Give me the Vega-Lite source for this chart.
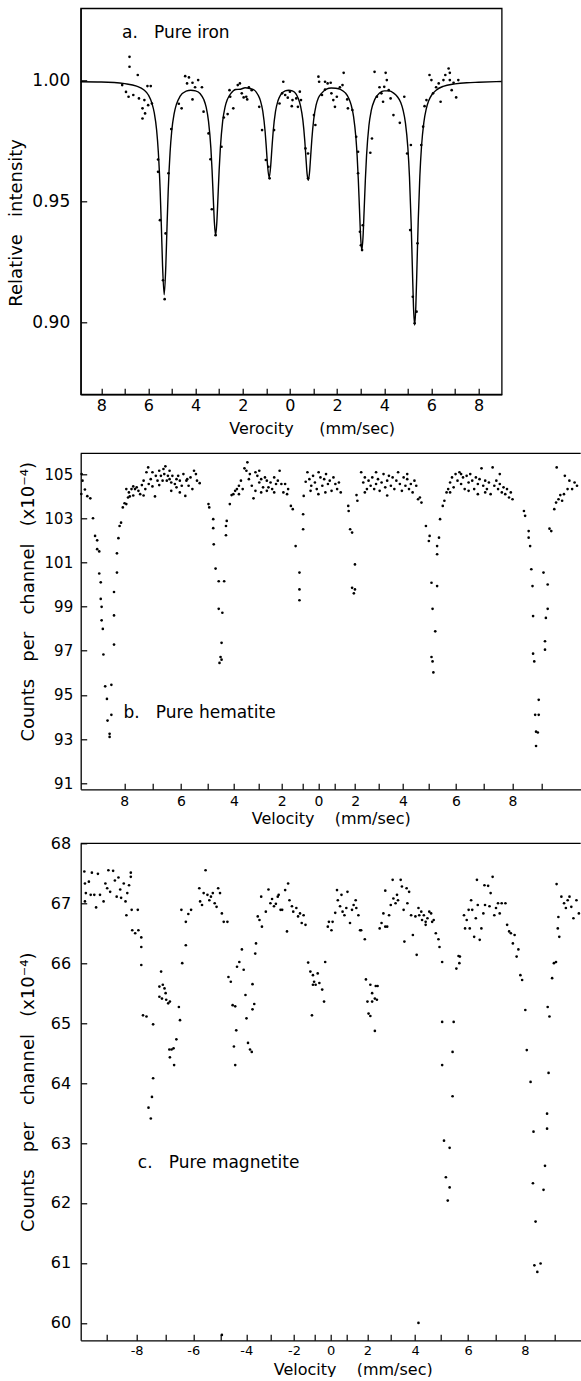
{
  "$schema": "https://vega.github.io/schema/vega-lite/v6.json",
  "background": "white",
  "autosize": {"type": "pad"},
  "padding": {"left": 6.7, "top": 7.3, "right": 0, "bottom": 0},
  "spacing": 9,
  "config": {
    "font": "DejaVu Sans",
    "view": {"stroke": null},
    "text": {"font": "DejaVu Sans", "color": "black"},
    "axis": {
      "grid": false,
      "domainColor": "black",
      "domainWidth": 1.3,
      "tickColor": "black",
      "tickWidth": 1.2,
      "tickCount": 60,
      "labelColor": "black",
      "titleColor": "black",
      "labelFont": "DejaVu Sans",
      "titleFont": "DejaVu Sans",
      "titleFontWeight": "normal",
      "labelOverlap": false,
      "labelFlush": false
    }
  },
  "datasets": {
    "ironCurve": [
      {"v": -8.87, "y": 0.9996}, {"v": -8.0, "y": 0.9995}, {"v": -7.0, "y": 0.9988}, {"v": -6.5, "y": 0.9978},
      {"v": -6.2, "y": 0.9963}, {"v": -6.0, "y": 0.9941}, {"v": -5.85, "y": 0.9907}, {"v": -5.75, "y": 0.9867},
      {"v": -5.65, "y": 0.9795}, {"v": -5.58, "y": 0.9707}, {"v": -5.5, "y": 0.9544}, {"v": -5.45, "y": 0.9398},
      {"v": -5.4, "y": 0.9237}, {"v": -5.33, "y": 0.9114}, {"v": -5.26, "y": 0.9236}, {"v": -5.21, "y": 0.9397},
      {"v": -5.16, "y": 0.9543}, {"v": -5.08, "y": 0.9704}, {"v": -5.01, "y": 0.9792}, {"v": -4.91, "y": 0.9863},
      {"v": -4.81, "y": 0.9903}, {"v": -4.66, "y": 0.9935}, {"v": -4.4, "y": 0.9957}, {"v": -4.2, "y": 0.9961},
      {"v": -4.0, "y": 0.9958}, {"v": -3.8, "y": 0.9946}, {"v": -3.65, "y": 0.9922}, {"v": -3.55, "y": 0.9891},
      {"v": -3.45, "y": 0.9832}, {"v": -3.35, "y": 0.972}, {"v": -3.3, "y": 0.963}, {"v": -3.25, "y": 0.9518},
      {"v": -3.2, "y": 0.9411}, {"v": -3.15, "y": 0.936}, {"v": -3.1, "y": 0.941}, {"v": -3.05, "y": 0.9517},
      {"v": -3.0, "y": 0.9629}, {"v": -2.95, "y": 0.9719}, {"v": -2.85, "y": 0.9833}, {"v": -2.75, "y": 0.9891},
      {"v": -2.65, "y": 0.9923}, {"v": -2.5, "y": 0.9948}, {"v": -2.3, "y": 0.9964}, {"v": -2.1, "y": 0.9965},
      {"v": -1.9, "y": 0.9971}, {"v": -1.7, "y": 0.9968}, {"v": -1.5, "y": 0.9961}, {"v": -1.35, "y": 0.9941},
      {"v": -1.25, "y": 0.9918}, {"v": -1.15, "y": 0.9874}, {"v": -1.05, "y": 0.9789}, {"v": -1.0, "y": 0.9724},
      {"v": -0.95, "y": 0.9653}, {"v": -0.88, "y": 0.9598}, {"v": -0.81, "y": 0.9653}, {"v": -0.76, "y": 0.9724},
      {"v": -0.71, "y": 0.9789}, {"v": -0.61, "y": 0.9873}, {"v": -0.51, "y": 0.9916}, {"v": -0.4, "y": 0.9941},
      {"v": -0.2, "y": 0.9958}, {"v": -0.05, "y": 0.9961}, {"v": 0.1, "y": 0.9958}, {"v": 0.25, "y": 0.9947},
      {"v": 0.35, "y": 0.9928}, {"v": 0.45, "y": 0.9896}, {"v": 0.55, "y": 0.9837}, {"v": 0.63, "y": 0.9753},
      {"v": 0.68, "y": 0.9682}, {"v": 0.73, "y": 0.9614}, {"v": 0.78, "y": 0.9588}, {"v": 0.83, "y": 0.9618},
      {"v": 0.88, "y": 0.9686}, {"v": 0.93, "y": 0.9757}, {"v": 1.01, "y": 0.984}, {"v": 1.11, "y": 0.9899},
      {"v": 1.21, "y": 0.993}, {"v": 1.35, "y": 0.9949}, {"v": 1.55, "y": 0.9965}, {"v": 1.75, "y": 0.997},
      {"v": 1.95, "y": 0.9969}, {"v": 2.15, "y": 0.9964}, {"v": 2.35, "y": 0.995}, {"v": 2.5, "y": 0.9927},
      {"v": 2.6, "y": 0.9899}, {"v": 2.7, "y": 0.9852}, {"v": 2.8, "y": 0.9763}, {"v": 2.85, "y": 0.9691},
      {"v": 2.9, "y": 0.9592}, {"v": 2.95, "y": 0.947}, {"v": 3.0, "y": 0.9352}, {"v": 3.05, "y": 0.9298},
      {"v": 3.1, "y": 0.9352}, {"v": 3.15, "y": 0.9469}, {"v": 3.2, "y": 0.9591}, {"v": 3.25, "y": 0.969},
      {"v": 3.35, "y": 0.9814}, {"v": 3.45, "y": 0.9877}, {"v": 3.6, "y": 0.9923}, {"v": 3.8, "y": 0.9949},
      {"v": 4.0, "y": 0.9958}, {"v": 4.2, "y": 0.9958}, {"v": 4.4, "y": 0.9949}, {"v": 4.55, "y": 0.9935},
      {"v": 4.7, "y": 0.991}, {"v": 4.8, "y": 0.9878}, {"v": 4.9, "y": 0.9825}, {"v": 5.0, "y": 0.9725},
      {"v": 5.07, "y": 0.9603}, {"v": 5.14, "y": 0.9414}, {"v": 5.19, "y": 0.9236}, {"v": 5.24, "y": 0.9065},
      {"v": 5.29, "y": 0.8989}, {"v": 5.34, "y": 0.9067}, {"v": 5.39, "y": 0.9238}, {"v": 5.44, "y": 0.9417},
      {"v": 5.51, "y": 0.9606}, {"v": 5.58, "y": 0.9728}, {"v": 5.68, "y": 0.9828}, {"v": 5.78, "y": 0.9883},
      {"v": 5.88, "y": 0.9916}, {"v": 6.03, "y": 0.9944}, {"v": 6.2, "y": 0.9961}, {"v": 6.5, "y": 0.9977},
      {"v": 7.0, "y": 0.9987}, {"v": 7.5, "y": 0.9992}, {"v": 8.0, "y": 0.9994}, {"v": 8.98, "y": 0.9997}
    ],
    "ironPts": [
      {"v": -6.8, "y": 1.0099}, {"v": -6.8, "y": 1.0058}, {"v": -6.45, "y": 1.0024}, {"v": -7.11, "y": 0.9982},
      {"v": -6.95, "y": 0.9954}, {"v": -6.84, "y": 0.9934}, {"v": -6.64, "y": 0.9941}, {"v": -6.4, "y": 0.9927},
      {"v": -6.17, "y": 0.992}, {"v": -6.04, "y": 0.9978}, {"v": -5.9, "y": 0.9978}, {"v": -6.25, "y": 0.9886},
      {"v": -6.14, "y": 0.9865}, {"v": -6.25, "y": 0.9844}, {"v": -6.01, "y": 0.9899}, {"v": -5.85, "y": 0.9906},
      {"v": -5.59, "y": 0.9674}, {"v": -5.59, "y": 0.9623}, {"v": -5.51, "y": 0.9423}, {"v": -5.38, "y": 0.9174},
      {"v": -5.31, "y": 0.9096}, {"v": -5.27, "y": 0.9368}, {"v": -5.15, "y": 0.9617}, {"v": -5.03, "y": 0.98},
      {"v": -4.71, "y": 0.9905}, {"v": -4.59, "y": 0.9886}, {"v": -4.44, "y": 1.0019}, {"v": -4.28, "y": 1.0014},
      {"v": -4.13, "y": 0.9992}, {"v": -4.36, "y": 0.9989}, {"v": -4.02, "y": 0.9973}, {"v": -3.89, "y": 1.0003},
      {"v": -3.73, "y": 0.9973}, {"v": -4.13, "y": 0.9923}, {"v": -3.66, "y": 0.9872}, {"v": -3.45, "y": 0.9782},
      {"v": -3.37, "y": 0.9675}, {"v": -3.31, "y": 0.9468}, {"v": -3.15, "y": 0.9361}, {"v": -2.9, "y": 0.9727},
      {"v": -2.8, "y": 0.9848}, {"v": -2.64, "y": 0.9862}, {"v": -2.53, "y": 0.9934}, {"v": -2.4, "y": 0.9886},
      {"v": -2.56, "y": 0.9961}, {"v": -2.21, "y": 0.9982}, {"v": -2.12, "y": 0.9989}, {"v": -2.04, "y": 0.9948},
      {"v": -1.96, "y": 0.9931}, {"v": -1.85, "y": 0.9934}, {"v": -1.74, "y": 0.9973}, {"v": -1.62, "y": 0.9961},
      {"v": -1.81, "y": 0.9923}, {"v": -1.3, "y": 0.9892}, {"v": -1.18, "y": 0.9796}, {"v": -1.02, "y": 0.9672},
      {"v": -0.91, "y": 0.9644}, {"v": -0.86, "y": 0.9596}, {"v": -0.67, "y": 0.9796}, {"v": -0.44, "y": 0.9906},
      {"v": -0.28, "y": 0.9996}, {"v": -0.33, "y": 0.9948}, {"v": -0.2, "y": 0.9941}, {"v": -0.09, "y": 0.993},
      {"v": 0.0, "y": 0.9955}, {"v": 0.11, "y": 0.992}, {"v": 0.08, "y": 0.9895}, {"v": 0.27, "y": 0.9927},
      {"v": 0.42, "y": 0.9955}, {"v": 0.47, "y": 0.992}, {"v": 0.34, "y": 0.9892}, {"v": 0.66, "y": 0.972},
      {"v": 0.77, "y": 0.9699}, {"v": 0.77, "y": 0.9596}, {"v": 1.02, "y": 0.9858}, {"v": 1.08, "y": 0.9817},
      {"v": 1.21, "y": 1.0017}, {"v": 1.24, "y": 0.9996}, {"v": 1.36, "y": 0.9941}, {"v": 1.49, "y": 0.9964},
      {"v": 1.49, "y": 0.9996}, {"v": 1.6, "y": 0.9989}, {"v": 1.73, "y": 0.9992}, {"v": 1.76, "y": 0.9948},
      {"v": 1.84, "y": 0.992}, {"v": 1.91, "y": 0.9892}, {"v": 1.99, "y": 0.9934}, {"v": 2.12, "y": 0.9973},
      {"v": 2.28, "y": 1.0033}, {"v": 2.23, "y": 0.9982}, {"v": 2.43, "y": 0.9923}, {"v": 2.46, "y": 0.9886},
      {"v": 2.65, "y": 0.9879}, {"v": 2.81, "y": 0.9768}, {"v": 2.89, "y": 0.9706}, {"v": 2.89, "y": 0.9617},
      {"v": 2.97, "y": 0.9375}, {"v": 3.01, "y": 0.9319}, {"v": 3.06, "y": 0.9299}, {"v": 3.09, "y": 0.9402},
      {"v": 3.41, "y": 0.9702}, {"v": 3.48, "y": 0.9761}, {"v": 3.59, "y": 1.0037}, {"v": 3.69, "y": 0.9934},
      {"v": 3.8, "y": 0.9973}, {"v": 3.88, "y": 0.9948}, {"v": 4.0, "y": 0.9975}, {"v": 4.06, "y": 1.0033},
      {"v": 4.11, "y": 1.0003}, {"v": 4.19, "y": 0.9961}, {"v": 4.27, "y": 0.9927}, {"v": 3.95, "y": 0.9913},
      {"v": 4.39, "y": 0.9858}, {"v": 4.66, "y": 0.9826}, {"v": 4.85, "y": 0.9934}, {"v": 4.97, "y": 0.9699},
      {"v": 5.13, "y": 0.9734}, {"v": 5.1, "y": 0.9382}, {"v": 5.21, "y": 0.9106}, {"v": 5.29, "y": 0.8996},
      {"v": 5.37, "y": 0.9044}, {"v": 5.41, "y": 0.9327}, {"v": 5.57, "y": 0.9734}, {"v": 5.65, "y": 0.981},
      {"v": 5.71, "y": 0.9895}, {"v": 5.79, "y": 0.992}, {"v": 5.92, "y": 1.0024}, {"v": 6.0, "y": 1.0003},
      {"v": 6.07, "y": 0.9948}, {"v": 6.2, "y": 0.9973}, {"v": 6.31, "y": 0.9989}, {"v": 6.39, "y": 0.9913},
      {"v": 6.51, "y": 1.0003}, {"v": 6.59, "y": 1.0024}, {"v": 6.73, "y": 1.0051}, {"v": 6.78, "y": 1.0033},
      {"v": 6.78, "y": 1.0003}, {"v": 6.86, "y": 0.9961}, {"v": 6.94, "y": 0.9992}, {"v": 7.05, "y": 0.9931},
      {"v": 7.14, "y": 1.0003}
    ],
    "hemPts": [
      {"v": -9.44, "c": 105.0}, {"v": -9.41, "c": 104.7}, {"v": -9.45, "c": 104.1}, {"v": -9.33, "c": 104.3},
      {"v": -9.25, "c": 104.0}, {"v": -9.15, "c": 103.9}, {"v": -9.06, "c": 103.0}, {"v": -8.99, "c": 102.2},
      {"v": -8.92, "c": 102.0}, {"v": -8.92, "c": 101.6}, {"v": -8.85, "c": 101.5}, {"v": -8.85, "c": 100.5},
      {"v": -8.8, "c": 100.1}, {"v": -8.8, "c": 99.35}, {"v": -8.77, "c": 98.99}, {"v": -8.77, "c": 98.38},
      {"v": -8.73, "c": 97.99}, {"v": -8.71, "c": 96.83}, {"v": -8.65, "c": 95.39}, {"v": -8.59, "c": 94.82},
      {"v": -8.57, "c": 93.84}, {"v": -8.5, "c": 93.24}, {"v": -8.5, "c": 93.1}, {"v": -8.44, "c": 94.1},
      {"v": -8.44, "c": 95.46}, {"v": -8.35, "c": 97.28}, {"v": -8.35, "c": 98.6}, {"v": -8.35, "c": 99.66},
      {"v": -8.25, "c": 100.54}, {"v": -8.25, "c": 101.41}, {"v": -8.2, "c": 102.1}, {"v": -8.16, "c": 102.65},
      {"v": -8.11, "c": 102.8}, {"v": -8.05, "c": 103.49}, {"v": -7.99, "c": 103.68}, {"v": -7.93, "c": 103.64},
      {"v": -7.87, "c": 103.94}, {"v": -7.81, "c": 103.99}, {"v": -7.84, "c": 104.17},
      {"v": -7.75, "c": 104.32}, {"v": -7.69, "c": 104.44}, {"v": -7.63, "c": 104.32}, {"v": -7.57, "c": 104.4},
      {"v": -7.51, "c": 104.24}, {"v": -7.45, "c": 104.09}, {"v": -7.39, "c": 104.5}, {"v": -7.33, "c": 104.7},
      {"v": -7.27, "c": 104.32}, {"v": -7.23, "c": 105.08}, {"v": -7.17, "c": 105.3}, {"v": -7.15, "c": 104.55},
      {"v": -7.08, "c": 104.77}, {"v": -7.02, "c": 104.44}, {"v": -6.93, "c": 103.99}, {"v": -6.9, "c": 104.92},
      {"v": -6.84, "c": 104.7}, {"v": -6.78, "c": 105.15}, {"v": -6.72, "c": 104.92}, {"v": -6.66, "c": 104.7},
      {"v": -6.6, "c": 105.0}, {"v": -6.56, "c": 105.35}, {"v": -6.51, "c": 104.7}, {"v": -6.47, "c": 104.92},
      {"v": -6.41, "c": 104.77}, {"v": -6.35, "c": 104.62}, {"v": -6.31, "c": 104.92}, {"v": -6.22, "c": 104.55},
      {"v": -6.16, "c": 104.77}, {"v": -6.1, "c": 104.92}, {"v": -6.04, "c": 104.7}, {"v": -5.97, "c": 104.47},
      {"v": -5.91, "c": 105.0}, {"v": -5.84, "c": 104.01}, {"v": -5.8, "c": 104.7}, {"v": -5.72, "c": 104.47},
      {"v": -5.65, "c": 104.85}, {"v": -5.58, "c": 104.32}, {"v": -5.52, "c": 105.15}, {"v": -5.45, "c": 105.0},
      {"v": -5.41, "c": 104.7}, {"v": -5.31, "c": 104.59}, {"v": -7.93, "c": 104.32}, {"v": -7.69, "c": 104.03},
      {"v": -7.33, "c": 104.03}, {"v": -7.02, "c": 105.08}, {"v": -6.78, "c": 104.5}, {"v": -6.63, "c": 105.23},
      {"v": -6.41, "c": 105.15}, {"v": -6.04, "c": 104.17}, {"v": -5.77, "c": 104.77}, {"v": -6.16, "c": 104.4},
      {"v": -6.35, "c": 104.24},
      {"v": -4.98, "c": 103.64}, {"v": -4.95, "c": 103.49}, {"v": -4.8, "c": 102.96}, {"v": -4.8, "c": 102.55},
      {"v": -4.78, "c": 101.82}, {"v": -4.71, "c": 100.72}, {"v": -4.38, "c": 100.15}, {"v": -4.31, "c": 102.23},
      {"v": -4.31, "c": 102.65}, {"v": -4.28, "c": 102.88}, {"v": -4.16, "c": 103.64}, {"v": -4.09, "c": 104.05},
      {"v": -4.59, "c": 100.15}, {"v": -4.59, "c": 98.9}, {"v": -4.45, "c": 98.72}, {"v": -4.48, "c": 97.36},
      {"v": -4.52, "c": 96.72}, {"v": -4.48, "c": 96.6}, {"v": -4.56, "c": 96.45},
      {"v": -4.02, "c": 104.09}, {"v": -3.95, "c": 104.24}, {"v": -3.88, "c": 104.32}, {"v": -3.8, "c": 104.47},
      {"v": -3.72, "c": 104.7}, {"v": -3.65, "c": 104.32}, {"v": -3.58, "c": 105.26}, {"v": -3.5, "c": 105.15},
      {"v": -3.46, "c": 105.53}, {"v": -3.4, "c": 104.77}, {"v": -3.36, "c": 105.0}, {"v": -3.28, "c": 104.47},
      {"v": -3.21, "c": 103.9}, {"v": -3.13, "c": 105.08}, {"v": -3.05, "c": 104.92}, {"v": -2.97, "c": 104.62},
      {"v": -2.89, "c": 104.77}, {"v": -2.81, "c": 104.4}, {"v": -2.73, "c": 104.85}, {"v": -2.65, "c": 104.7},
      {"v": -2.58, "c": 104.4}, {"v": -2.49, "c": 104.62}, {"v": -2.42, "c": 104.32}, {"v": -2.33, "c": 104.85},
      {"v": -2.25, "c": 104.55}, {"v": -2.17, "c": 104.7}, {"v": -2.09, "c": 105.15}, {"v": -2.01, "c": 104.55},
      {"v": -1.92, "c": 104.17}, {"v": -1.84, "c": 104.55}, {"v": -1.75, "c": 104.09}, {"v": -1.7, "c": 104.32},
      {"v": -3.8, "c": 104.09}, {"v": -3.13, "c": 104.24}, {"v": -2.65, "c": 104.24}, {"v": -2.89, "c": 104.17},
      {"v": -2.33, "c": 104.17}, {"v": -2.97, "c": 105.15},
      {"v": -1.57, "c": 103.56}, {"v": -1.48, "c": 103.41}, {"v": -1.34, "c": 101.74}, {"v": -1.15, "c": 100.54},
      {"v": -0.96, "c": 102.5}, {"v": -0.96, "c": 103.18}, {"v": -0.93, "c": 104.01}, {"v": -1.15, "c": 99.78},
      {"v": -1.15, "c": 99.29},
      {"v": -0.825, "c": 104.65}, {"v": -0.73, "c": 105.08}, {"v": -0.62, "c": 104.77}, {"v": -0.51, "c": 104.47},
      {"v": -0.4, "c": 104.92}, {"v": -0.28, "c": 104.62}, {"v": -0.15, "c": 104.32}, {"v": 0.03, "c": 105.08},
      {"v": 0.18, "c": 104.85}, {"v": 0.31, "c": 104.47}, {"v": 0.43, "c": 104.77}, {"v": 0.54, "c": 105.0},
      {"v": 0.65, "c": 104.55}, {"v": 0.75, "c": 104.7}, {"v": 0.85, "c": 104.24}, {"v": 0.95, "c": 104.85},
      {"v": 1.05, "c": 104.55}, {"v": 1.14, "c": 104.32}, {"v": 1.23, "c": 104.62}, {"v": 1.32, "c": 104.17},
      {"v": -0.55, "c": 104.24}, {"v": 0.0, "c": 104.09}, {"v": 0.5, "c": 104.17},
      {"v": 1.68, "c": 103.56}, {"v": 1.7, "c": 103.33}, {"v": 1.77, "c": 102.5}, {"v": 1.86, "c": 102.35},
      {"v": 1.99, "c": 100.91}, {"v": 2.1, "c": 103.79}, {"v": 2.06, "c": 104.05}, {"v": 1.86, "c": 99.85},
      {"v": 1.99, "c": 99.78}, {"v": 1.94, "c": 99.6},
      {"v": 2.27, "c": 105.08}, {"v": 2.36, "c": 104.62}, {"v": 2.43, "c": 104.85}, {"v": 2.52, "c": 104.32},
      {"v": 2.59, "c": 104.7}, {"v": 2.68, "c": 104.47}, {"v": 2.75, "c": 104.85}, {"v": 2.83, "c": 104.32},
      {"v": 2.91, "c": 104.55}, {"v": 2.99, "c": 104.77}, {"v": 3.06, "c": 104.24}, {"v": 3.14, "c": 104.62},
      {"v": 3.22, "c": 105.0}, {"v": 3.29, "c": 104.4}, {"v": 3.37, "c": 104.7}, {"v": 3.44, "c": 104.92},
      {"v": 3.52, "c": 104.47}, {"v": 3.59, "c": 104.85}, {"v": 3.66, "c": 104.32}, {"v": 3.74, "c": 104.7},
      {"v": 3.81, "c": 105.08}, {"v": 3.88, "c": 104.55}, {"v": 3.96, "c": 104.24}, {"v": 4.03, "c": 104.85},
      {"v": 4.1, "c": 104.47}, {"v": 4.17, "c": 104.77}, {"v": 4.24, "c": 104.32}, {"v": 4.31, "c": 104.55},
      {"v": 4.38, "c": 104.17}, {"v": 4.45, "c": 104.7}, {"v": 4.52, "c": 104.47}, {"v": 4.59, "c": 103.86},
      {"v": 4.66, "c": 103.94}, {"v": 4.72, "c": 103.71}, {"v": 2.43, "c": 104.17}, {"v": 3.37, "c": 104.03},
      {"v": 2.91, "c": 105.08}, {"v": 4.17, "c": 105.0},
      {"v": 4.89, "c": 102.65}, {"v": 5.03, "c": 102.2}, {"v": 5.0, "c": 101.97}, {"v": 5.31, "c": 101.74},
      {"v": 5.38, "c": 102.12}, {"v": 5.42, "c": 102.96}, {"v": 5.31, "c": 101.37}, {"v": 5.1, "c": 100.08},
      {"v": 5.31, "c": 99.93}, {"v": 5.14, "c": 98.9}, {"v": 5.24, "c": 97.88}, {"v": 5.1, "c": 96.72},
      {"v": 5.14, "c": 96.52}, {"v": 5.17, "c": 96.02},
      {"v": 5.52, "c": 103.56}, {"v": 5.58, "c": 103.79}, {"v": 5.66, "c": 104.17}, {"v": 5.72, "c": 104.32},
      {"v": 5.79, "c": 104.62}, {"v": 5.86, "c": 104.85}, {"v": 5.92, "c": 104.4}, {"v": 5.99, "c": 105.0},
      {"v": 6.06, "c": 104.7}, {"v": 6.13, "c": 105.08}, {"v": 6.19, "c": 104.55}, {"v": 6.26, "c": 104.85},
      {"v": 6.32, "c": 104.32}, {"v": 6.39, "c": 104.92}, {"v": 6.46, "c": 104.62}, {"v": 6.52, "c": 105.0},
      {"v": 6.59, "c": 104.7}, {"v": 6.66, "c": 104.32}, {"v": 6.72, "c": 104.85}, {"v": 6.79, "c": 104.55},
      {"v": 6.85, "c": 104.77}, {"v": 6.92, "c": 105.26}, {"v": 6.98, "c": 104.47}, {"v": 7.05, "c": 104.7},
      {"v": 7.11, "c": 104.32}, {"v": 7.18, "c": 104.62}, {"v": 7.24, "c": 104.09}, {"v": 7.31, "c": 105.3},
      {"v": 7.37, "c": 104.47}, {"v": 7.44, "c": 104.7}, {"v": 7.5, "c": 104.32}, {"v": 7.56, "c": 104.55},
      {"v": 7.63, "c": 104.17}, {"v": 7.69, "c": 104.4}, {"v": 7.75, "c": 104.09}, {"v": 7.81, "c": 104.32},
      {"v": 7.88, "c": 103.94}, {"v": 7.94, "c": 104.17}, {"v": 8.0, "c": 103.86}, {"v": 5.79, "c": 104.17},
      {"v": 6.19, "c": 105.0}, {"v": 6.79, "c": 104.09}, {"v": 7.56, "c": 105.0}, {"v": 6.46, "c": 104.24},
      {"v": 7.05, "c": 104.17},
      {"v": 8.39, "c": 103.33}, {"v": 8.43, "c": 103.11}, {"v": 8.55, "c": 102.42}, {"v": 8.55, "c": 102.12},
      {"v": 8.6, "c": 101.74}, {"v": 8.64, "c": 100.69}, {"v": 8.68, "c": 99.93}, {"v": 8.7, "c": 98.57},
      {"v": 8.7, "c": 96.87}, {"v": 8.74, "c": 96.52}, {"v": 8.77, "c": 94.1}, {"v": 8.8, "c": 93.34},
      {"v": 8.8, "c": 92.69}, {"v": 8.86, "c": 93.3}, {"v": 8.89, "c": 94.1}, {"v": 8.89, "c": 94.78},
      {"v": 9.1, "c": 97.05}, {"v": 9.1, "c": 97.43}, {"v": 9.13, "c": 98.49}, {"v": 9.19, "c": 98.9},
      {"v": 9.19, "c": 100.0}, {"v": 9.05, "c": 100.54}, {"v": 9.25, "c": 102.53}, {"v": 9.31, "c": 102.42},
      {"v": 9.41, "c": 103.41}, {"v": 9.47, "c": 103.71}, {"v": 9.49, "c": 105.3}, {"v": 9.55, "c": 103.86},
      {"v": 9.61, "c": 104.05}, {"v": 9.67, "c": 103.79}, {"v": 9.73, "c": 104.09}, {"v": 9.76, "c": 104.92},
      {"v": 9.85, "c": 104.32}, {"v": 9.91, "c": 104.7}, {"v": 10.0, "c": 104.32}, {"v": 10.08, "c": 104.62},
      {"v": 10.16, "c": 104.47}
    ],
    "magPts": [
      {"v": -9.76, "c": 67.53}, {"v": -9.74, "c": 67.33}, {"v": -9.71, "c": 67.17}, {"v": -9.74, "c": 67.03},
      {"v": -9.61, "c": 67.36}, {"v": -9.51, "c": 67.51}, {"v": -9.55, "c": 67.14}, {"v": -9.43, "c": 67.14},
      {"v": -9.37, "c": 66.93}, {"v": -9.31, "c": 67.49}, {"v": -9.24, "c": 67.14}, {"v": -9.12, "c": 67.03},
      {"v": -9.06, "c": 67.33}, {"v": -9.0, "c": 67.25}, {"v": -8.96, "c": 67.55}, {"v": -8.9, "c": 67.19},
      {"v": -8.8, "c": 67.54}, {"v": -8.74, "c": 67.38}, {"v": -8.68, "c": 67.11}, {"v": -8.62, "c": 67.43},
      {"v": -8.56, "c": 67.23}, {"v": -8.53, "c": 67.09}, {"v": -8.44, "c": 67.33}, {"v": -8.38, "c": 67.03},
      {"v": -8.32, "c": 67.17}, {"v": -8.26, "c": 67.3}, {"v": -8.2, "c": 67.44}, {"v": -8.2, "c": 67.51},
      {"v": -8.35, "c": 66.8},
      {"v": -8.17, "c": 66.89}, {"v": -7.96, "c": 66.89}, {"v": -8.15, "c": 66.55}, {"v": -8.05, "c": 66.5},
      {"v": -7.94, "c": 66.55}, {"v": -7.84, "c": 66.43}, {"v": -7.84, "c": 66.27}, {"v": -7.84, "c": 65.97},
      {"v": -7.78, "c": 65.13}, {"v": -7.66, "c": 65.11}, {"v": -7.43, "c": 64.98},
      {"v": -7.15, "c": 65.86}, {"v": -7.21, "c": 65.61}, {"v": -7.09, "c": 65.64}, {"v": -7.03, "c": 65.58},
      {"v": -7.21, "c": 65.44}, {"v": -7.12, "c": 65.41}, {"v": -6.99, "c": 65.5}, {"v": -6.97, "c": 65.39},
      {"v": -6.84, "c": 65.36}, {"v": -6.9, "c": 65.33}, {"v": -6.86, "c": 64.56}, {"v": -6.78, "c": 64.56},
      {"v": -6.71, "c": 64.58}, {"v": -6.61, "c": 64.73}, {"v": -6.52, "c": 65.27}, {"v": -6.48, "c": 65.05},
      {"v": -6.4, "c": 66.0}, {"v": -6.27, "c": 66.3}, {"v": -6.43, "c": 66.89}, {"v": -6.27, "c": 66.69},
      {"v": -6.18, "c": 66.82}, {"v": -6.08, "c": 66.89}, {"v": -7.43, "c": 64.08}, {"v": -7.47, "c": 63.77},
      {"v": -7.59, "c": 63.59}, {"v": -7.51, "c": 63.41}, {"v": -6.84, "c": 64.43}, {"v": -6.69, "c": 64.3},
      {"v": -5.78, "c": 67.25}, {"v": -5.68, "c": 66.97}, {"v": -5.62, "c": 67.17}, {"v": -5.55, "c": 67.55},
      {"v": -5.48, "c": 67.14}, {"v": -5.41, "c": 67.05}, {"v": -5.35, "c": 67.11}, {"v": -5.28, "c": 67.17},
      {"v": -5.21, "c": 67.0}, {"v": -5.14, "c": 66.94}, {"v": -5.08, "c": 67.25}, {"v": -5.01, "c": 67.17},
      {"v": -4.94, "c": 66.83}, {"v": -4.87, "c": 66.69}, {"v": -4.73, "c": 66.69}, {"v": -5.75, "c": 67.03},
      {"v": -4.69, "c": 65.77}, {"v": -4.6, "c": 65.69}, {"v": -4.53, "c": 65.3}, {"v": -4.43, "c": 65.28},
      {"v": -4.36, "c": 65.94}, {"v": -4.27, "c": 66.02}, {"v": -4.17, "c": 66.23}, {"v": -4.1, "c": 65.89},
      {"v": -4.03, "c": 65.47}, {"v": -3.99, "c": 65.08}, {"v": -3.93, "c": 64.67}, {"v": -3.85, "c": 64.56},
      {"v": -3.75, "c": 65.23}, {"v": -3.68, "c": 65.32}, {"v": -3.75, "c": 65.65}, {"v": -4.48, "c": 64.61},
      {"v": -4.39, "c": 64.88}, {"v": -3.64, "c": 66.16}, {"v": -3.61, "c": 66.33}, {"v": -3.54, "c": 66.78},
      {"v": -3.47, "c": 66.72}, {"v": -3.4, "c": 67.11}, {"v": -3.37, "c": 66.61}, {"v": -4.43, "c": 64.3},
      {"v": -3.78, "c": 64.52},
      {"v": -3.21, "c": 66.86}, {"v": -3.1, "c": 67.23}, {"v": -3.02, "c": 67.0}, {"v": -2.95, "c": 67.07},
      {"v": -2.87, "c": 66.95}, {"v": -2.79, "c": 66.99}, {"v": -2.71, "c": 67.11}, {"v": -2.67, "c": 67.14},
      {"v": -2.59, "c": 66.89}, {"v": -2.52, "c": 66.89}, {"v": -2.39, "c": 67.22}, {"v": -2.31, "c": 66.53},
      {"v": -2.26, "c": 67.33}, {"v": -2.2, "c": 67.05}, {"v": -2.09, "c": 66.95}, {"v": -2.03, "c": 66.86},
      {"v": -1.89, "c": 66.92}, {"v": -1.81, "c": 66.78}, {"v": -1.72, "c": 66.83}, {"v": -1.55, "c": 66.8},
      {"v": -1.46, "c": 66.64}, {"v": -1.64, "c": 66.67},
      {"v": -1.33, "c": 66.01}, {"v": -1.22, "c": 65.86}, {"v": -1.09, "c": 65.8}, {"v": -1.03, "c": 65.69},
      {"v": -0.95, "c": 65.64}, {"v": -1.09, "c": 65.64}, {"v": -0.84, "c": 65.83}, {"v": -0.75, "c": 65.67},
      {"v": -0.59, "c": 65.56}, {"v": -0.48, "c": 65.36}, {"v": -1.14, "c": 65.13}, {"v": -0.41, "c": 66.02},
      {"v": -0.24, "c": 66.61}, {"v": -0.16, "c": 66.69}, {"v": 0.08, "c": 66.55}, {"v": 0.17, "c": 66.69},
      {"v": 0.35, "c": 66.84}, {"v": 0.46, "c": 67.22}, {"v": 0.51, "c": 67.05}, {"v": 0.64, "c": 66.95},
      {"v": 0.72, "c": 67.14}, {"v": 0.78, "c": 66.86}, {"v": 0.88, "c": 66.8}, {"v": 0.98, "c": 66.92},
      {"v": 1.04, "c": 67.19}, {"v": 1.17, "c": 66.67}, {"v": 1.27, "c": 66.89}, {"v": 1.35, "c": 66.97},
      {"v": 1.45, "c": 67.05}, {"v": 1.48, "c": 66.92}, {"v": 1.58, "c": 66.8}, {"v": 1.66, "c": 66.55},
      {"v": 1.71, "c": 66.55}, {"v": 1.88, "c": 66.4},
      {"v": 1.93, "c": 65.73}, {"v": 2.0, "c": 65.36}, {"v": 2.05, "c": 65.16}, {"v": 2.13, "c": 65.12},
      {"v": 2.13, "c": 65.64}, {"v": 2.21, "c": 65.5}, {"v": 2.21, "c": 65.36}, {"v": 2.33, "c": 65.41},
      {"v": 2.33, "c": 64.87}, {"v": 2.37, "c": 65.62}, {"v": 2.45, "c": 65.62}, {"v": 2.42, "c": 65.39},
      {"v": 2.54, "c": 66.58}, {"v": 2.62, "c": 66.67}, {"v": 2.7, "c": 66.83}, {"v": 2.78, "c": 66.61},
      {"v": 2.86, "c": 66.61}, {"v": 2.78, "c": 67.21}, {"v": 2.94, "c": 66.8}, {"v": 3.01, "c": 66.97},
      {"v": 3.09, "c": 67.39}, {"v": 3.12, "c": 67.08}, {"v": 3.21, "c": 67.0}, {"v": 3.27, "c": 67.14},
      {"v": 3.31, "c": 67.05}, {"v": 3.42, "c": 67.39}, {"v": 3.47, "c": 67.28}, {"v": 3.54, "c": 66.89},
      {"v": 3.57, "c": 66.36}, {"v": 3.66, "c": 67.25}, {"v": 3.76, "c": 67.19}, {"v": 3.69, "c": 67.0},
      {"v": 3.84, "c": 66.8}, {"v": 3.91, "c": 66.47}, {"v": 4.01, "c": 66.78}, {"v": 4.06, "c": 66.14},
      {"v": 4.13, "c": 66.92}, {"v": 4.16, "c": 66.8}, {"v": 4.24, "c": 66.86}, {"v": 4.27, "c": 66.72},
      {"v": 4.34, "c": 66.8}, {"v": 4.41, "c": 66.64}, {"v": 4.48, "c": 66.75}, {"v": 4.55, "c": 66.86},
      {"v": 4.62, "c": 66.83}, {"v": 4.66, "c": 66.69}, {"v": 4.72, "c": 66.72}, {"v": 4.41, "c": 66.69},
      {"v": 4.8, "c": 66.5}, {"v": 4.9, "c": 66.4}, {"v": 4.94, "c": 66.27}, {"v": 5.04, "c": 66.02},
      {"v": 5.04, "c": 65.02}, {"v": 5.47, "c": 65.02}, {"v": 5.43, "c": 64.52}, {"v": 5.57, "c": 65.91},
      {"v": 5.65, "c": 66.12}, {"v": 5.7, "c": 66.11}, {"v": 5.68, "c": 66.0}, {"v": 5.04, "c": 64.3},
      {"v": 5.43, "c": 63.78}, {"v": 5.11, "c": 63.04}, {"v": 5.32, "c": 62.92}, {"v": 5.18, "c": 62.43},
      {"v": 5.32, "c": 62.26}, {"v": 5.25, "c": 62.04},
      {"v": 5.85, "c": 66.8}, {"v": 5.89, "c": 66.58}, {"v": 5.95, "c": 66.72}, {"v": 6.02, "c": 66.89},
      {"v": 6.06, "c": 66.58}, {"v": 6.11, "c": 67.05}, {"v": 6.15, "c": 66.89}, {"v": 6.22, "c": 66.44},
      {"v": 6.28, "c": 66.75}, {"v": 6.32, "c": 67.39}, {"v": 6.35, "c": 66.97}, {"v": 6.42, "c": 66.39},
      {"v": 6.48, "c": 66.58}, {"v": 6.55, "c": 66.83}, {"v": 6.59, "c": 67.3}, {"v": 6.61, "c": 66.97},
      {"v": 6.72, "c": 67.29}, {"v": 6.77, "c": 66.95}, {"v": 6.81, "c": 67.17}, {"v": 6.88, "c": 67.44},
      {"v": 6.94, "c": 66.8}, {"v": 7.0, "c": 66.92}, {"v": 7.07, "c": 67.0}, {"v": 7.13, "c": 66.83},
      {"v": 7.2, "c": 67.0}, {"v": 7.33, "c": 67.0}, {"v": 7.39, "c": 66.64}, {"v": 7.46, "c": 66.53},
      {"v": 7.52, "c": 66.5}, {"v": 7.59, "c": 66.33}, {"v": 7.65, "c": 66.47}, {"v": 7.72, "c": 66.11},
      {"v": 7.78, "c": 66.23}, {"v": 7.85, "c": 65.8}, {"v": 7.91, "c": 65.72}, {"v": 8.02, "c": 65.22},
      {"v": 8.07, "c": 64.55}, {"v": 8.2, "c": 64.02}, {"v": 8.3, "c": 63.19}, {"v": 8.28, "c": 62.33},
      {"v": 8.37, "c": 61.69}, {"v": 8.33, "c": 60.96}, {"v": 8.43, "c": 60.85}, {"v": 8.54, "c": 60.99},
      {"v": 8.64, "c": 62.22}, {"v": 8.69, "c": 62.62}, {"v": 8.76, "c": 63.24}, {"v": 8.76, "c": 63.49},
      {"v": 8.81, "c": 64.17}, {"v": 8.78, "c": 65.27}, {"v": 8.84, "c": 65.11}, {"v": 8.93, "c": 65.75},
      {"v": 8.99, "c": 66.0}, {"v": 9.06, "c": 66.02}, {"v": 9.12, "c": 66.58}, {"v": 9.14, "c": 66.77},
      {"v": 9.17, "c": 66.44}, {"v": 9.08, "c": 67.32}, {"v": 9.24, "c": 67.11}, {"v": 9.33, "c": 67.0},
      {"v": 9.39, "c": 66.92}, {"v": 9.45, "c": 67.05}, {"v": 9.51, "c": 67.11}, {"v": 9.57, "c": 66.94},
      {"v": 9.64, "c": 66.75}, {"v": 9.74, "c": 67.05}, {"v": 9.82, "c": 66.83},
      {"v": -4.94, "c": 59.8}, {"v": 4.13, "c": 60.0}
    ]
  },
  "vconcat": [
    {
      "width": 421,
      "height": 386,
      "view": {"stroke": "black", "strokeWidth": 1.3},
      "layer": [
        {
          "data": {"name": "ironCurve"},
          "mark": {"type": "line", "color": "black", "strokeWidth": 1.4, "interpolate": "monotone"},
          "encoding": {
            "x": {
              "field": "v", "type": "quantitative",
              "scale": {"domain": [-8.87, 8.98], "nice": false, "zero": false},
              "axis": {
                "orient": "bottom",
                "values": [-8, -7, -6, -5, -4, -3, -2, -1, 0, 1, 2, 3, 4, 5, 6, 7, 8],
                "labelExpr": "datum.value % 2 === 0 ? '' + abs(datum.value) : ''",
                "title": ["Verocity\u00a0\u00a0\u00a0\u00a0 (mm/sec)", ""],
                "titleLineHeight": 6,
                "tickSize": -6,
                "labelPadding": 9.5,
                "labelFontSize": 16,
                "titleFontSize": 16,
                "titlePadding": 6.5,
                "titleX": 231
              }
            },
            "y": {
              "field": "y", "type": "quantitative",
              "scale": {"domain": [0.8702, 1.03], "nice": false, "zero": false},
              "axis": {
                "values": [0.9, 0.95, 1.0],
                "format": ".2f",
                "title": "Relative\u00a0\u00a0 intensity",
                "tickSize": -6,
                "labelPadding": 17,
                "labelFontSize": 17,
                "titleFontSize": 18,
                "minExtent": 40,
                "maxExtent": 40,
                "titlePadding": 15,
                "titleY": 214
              }
            }
          }
        },
        {
          "data": {"name": "ironPts"},
          "mark": {"type": "circle", "size": 7, "color": "black", "opacity": 1},
          "encoding": {
            "x": {"field": "v", "type": "quantitative"},
            "y": {"field": "y", "type": "quantitative"}
          }
        },
        {
          "data": {"values": [{}]},
          "mark": {"type": "text", "align": "left", "baseline": "middle", "fontSize": 17, "color": "black"},
          "encoding": {
            "x": {"datum": -7.12},
            "y": {"datum": 1.0196},
            "text": {"value": "a.\u00a0\u00a0 Pure iron"}
          }
        }
      ]
    },
    {
      "width": 500,
      "height": 336,
      "layer": [
        {
          "data": {"name": "hemPts"},
          "mark": {"type": "circle", "size": 7, "color": "black", "opacity": 1},
          "encoding": {
            "x": {
              "field": "v", "type": "quantitative",
              "scale": {"type": "pow", "exponent": 1.2, "domain": [-9.47, 10.28], "nice": false, "zero": false},
              "axis": {
                "orient": "bottom",
                "values": [-8, -7, -6, -5, -4, -3, -2, -1, 0, 1, 2, 3, 4, 5, 6, 7, 8, 9],
                "labelExpr": "datum.value % 2 === 0 ? '' + abs(datum.value) : ''",
                "title": "Velocity\u00a0\u00a0\u00a0 (mm/sec)",
                "tickSize": -6,
                "labelPadding": 11,
                "labelFontSize": 14,
                "titleFontSize": 16,
                "titlePadding": 2
              }
            },
            "y": {
              "field": "c", "type": "quantitative",
              "scale": {"domain": [90.73, 105.94], "nice": false, "zero": false},
              "axis": {
                "values": [91, 93, 95, 97, 99, 101, 103, 105],
                "format": "d",
                "title": "Counts\u00a0\u00a0 per\u00a0\u00a0 channel\u00a0\u00a0 (x10⁻⁴)",
                "tickSize": -6,
                "labelPadding": 14,
                "labelFontSize": 15,
                "titleFontSize": 18,
                "minExtent": 36,
                "maxExtent": 36,
                "titlePadding": 7.5,
                "titleY": 148
              }
            }
          }
        },
        {
          "data": {"values": [{}]},
          "mark": {"type": "rule", "color": "black", "strokeWidth": 1.3},
          "encoding": {"y": {"datum": 105.94}}
        },
        {
          "data": {"values": [{}]},
          "mark": {"type": "text", "align": "left", "baseline": "middle", "fontSize": 17, "color": "black"},
          "encoding": {
            "x": {"datum": -8.03},
            "y": {"datum": 94.18},
            "text": {"value": "b.\u00a0\u00a0 Pure hematite"}
          }
        }
      ]
    },
    {
      "width": 500,
      "height": 497,
      "layer": [
        {
          "data": {"name": "magPts"},
          "mark": {"type": "circle", "size": 7, "color": "black", "opacity": 1},
          "encoding": {
            "x": {
              "field": "v", "type": "quantitative",
              "scale": {"type": "pow", "exponent": 1.2, "domain": [-9.88, 9.88], "nice": false, "zero": false},
              "axis": {
                "orient": "bottom",
                "values": [-9, -8, -7, -6, -5, -4, -3, -2, -1, 0, 1, 2, 3, 4, 5, 6, 7, 8, 9],
                "labelExpr": "datum.value % 2 === 0 ? '' + datum.value : ''",
                "title": "Velocity\u00a0\u00a0\u00a0 (mm/sec)",
                "tickSize": -6,
                "labelPadding": 10,
                "labelFontSize": 13,
                "titleFontSize": 16,
                "titlePadding": 4,
                "titleX": 272
              }
            },
            "y": {
              "field": "c", "type": "quantitative",
              "scale": {"domain": [59.71, 68], "nice": false, "zero": false},
              "axis": {
                "values": [60, 61, 62, 63, 64, 65, 66, 67, 68],
                "format": "d",
                "title": "Counts\u00a0\u00a0 per\u00a0\u00a0 channel\u00a0\u00a0 (x10⁻⁴)",
                "tickSize": -6,
                "labelPadding": 16,
                "labelFontSize": 16,
                "titleFontSize": 18,
                "minExtent": 36,
                "maxExtent": 36,
                "titlePadding": 7.5
              }
            }
          }
        },
        {
          "data": {"values": [{}]},
          "mark": {"type": "rule", "color": "black", "strokeWidth": 1.3},
          "encoding": {"y": {"datum": 68}}
        },
        {
          "data": {"values": [{}]},
          "mark": {"type": "text", "align": "left", "baseline": "middle", "fontSize": 17, "color": "black"},
          "encoding": {
            "x": {"datum": -7.96},
            "y": {"datum": 62.66},
            "text": {"value": "c.\u00a0\u00a0 Pure magnetite"}
          }
        }
      ]
    }
  ]
}
